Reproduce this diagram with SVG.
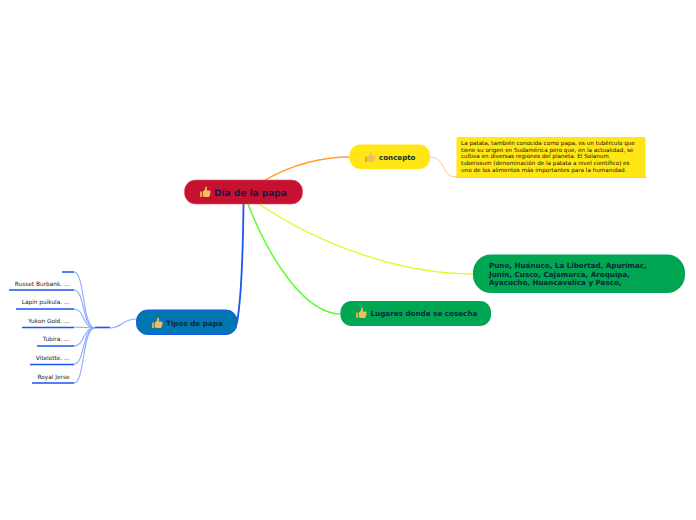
<svg xmlns="http://www.w3.org/2000/svg" width="696" height="520" viewBox="0 0 696 520">
<style>
text{font-family:"DejaVu Sans",Verdana,sans-serif;text-rendering:geometricPrecision}
.b{font-weight:bold;fill:#0b2a3a}
.leaf{font-size:5.8px;fill:#222;text-anchor:end}
.br{fill:none;stroke:#8aa9ff;stroke-width:1.100}
.ul{fill:none;stroke:#1a56f0;stroke-width:1.600}
.d{font-size:5.650px;fill:#111}
</style>
<defs>
<g id="thumb">
<path d="M-5 -0.5h2.4v5.5h-2.4z" fill="#e8a33c"/>
<path d="M-2 -0.5 L0 -2.5 L0.6 -5.5 C1.8 -5.8 2.4 -4.5 2 -3 L1.7 -1.5 H4.6 C5.6 -1.5 5.8 -0.3 5.2 0.2 C5.7 0.8 5.5 1.6 5 1.9 C5.3 2.6 5 3.2 4.5 3.5 C4.6 4.3 4.2 5 3.4 5 H0 L-2 4.3Z" fill="#f2bd62"/>
</g>
</defs>
<g id="connectors">
<path d="M265 180C290 166 320 157 350 157" fill="none" stroke="#ffa02b" stroke-width="1.400"/>
<path d="M430 157C446 157 441 177 456 177" fill="none" stroke="#ffc878" stroke-width="1"/>
<path d="M456 177H646" fill="none" stroke="#f5871f" stroke-width="1.200"/>
<path d="M259 204C320 245 400 274 473 274" fill="none" stroke="#d4ff2a" stroke-width="1.500"/>
<path d="M248 204C270 260 305 314 341 314" fill="none" stroke="#5cff2e" stroke-width="1.500"/>
<path d="M243.500 204C243 250 241 300 237 323" fill="none" stroke="#1a56f0" stroke-width="1.800"/>
<path d="M136 319C122 319 122 328 110 328" fill="none" stroke="#8aa9ff" stroke-width="1.100"/>
<path d="M95 327.500H110" class="ul"/>
<path class="br" d="M95 328C82 328 85 272 74 272"/>
<path class="br" d="M95 328C82 328 85 290 74 290"/>
<path class="br" d="M95 328C82 328 85 309 74 309"/>
<path class="br" d="M95 328C85 328 85 327 74 327"/>
<path class="br" d="M95 328C82 328 85 346 74 346"/>
<path class="br" d="M95 328C82 328 85 364 74 364"/>
<path class="br" d="M95 328C82 328 85 383 74 383"/>
<path class="ul" d="M62 272H74M9 290H74M16 309H74M22 327.500H74M37 346H74M30 364.500H74M32 383H74"/>
</g>
<g id="root">
<rect x="184.500" y="180" width="118" height="24" rx="11" fill="#c41230" stroke="#d8506a" stroke-width="0.600"/>
<use href="#thumb" x="205" y="192"/>
<text x="214" y="196" class="b" font-size="9" style="fill:#141a4a">Día de la papa</text>
</g>
<g id="concepto">
<rect x="349.500" y="144.500" width="80.500" height="24.500" rx="11" fill="#ffe614"/>
<use href="#thumb" x="370" y="157"/>
<text x="379" y="160" class="b" font-size="7.100">concepto</text>
</g>
<g id="definicion">
<rect x="456.500" y="137" width="189" height="40" rx="1.500" fill="#ffe614"/>
<text class="d"><tspan x="461" y="145">La patata, también conocida como papa, es un tubérculo que</tspan><tspan x="461" y="151.500">tiene su origen en Sudamérica pero que, en la actualidad, se</tspan><tspan x="461" y="158">cultiva en diversas regiones del planeta. El Solanum</tspan><tspan x="461" y="164.500">tuberosum (denominación de la patata a nivel científico) es</tspan><tspan x="461" y="171.500">uno de los alimentos más importantes para la humanidad.</tspan></text>
</g>
<g id="departamentos">
<rect x="473" y="254.500" width="212" height="38.500" rx="18" fill="#00a651"/>
<text class="b" font-size="7.150"><tspan x="489" y="268">Puno, Huánuco, La Libertad, Apurímac,</tspan><tspan x="489" y="276.500">Junín, Cusco, Cajamarca, Arequipa,</tspan><tspan x="489" y="285">Ayacucho, Huancavelica y Pasco,</tspan></text>
</g>
<g id="lugares">
<rect x="340.500" y="301" width="150.500" height="25" rx="11" fill="#00a651"/>
<use href="#thumb" x="361" y="313"/>
<text x="370.500" y="316" class="b" font-size="7.200">Lugares donde se cosecha</text>
</g>
<g id="tipos">
<rect x="136.500" y="310" width="100.500" height="24.500" rx="11" fill="#0077b0" stroke="#1a56f0" stroke-width="1"/>
<use href="#thumb" x="157" y="323"/>
<text x="166" y="326" class="b" font-size="7.200">Tipos de papa</text>
</g>
<g id="hojas">
<text class="leaf" x="69.500" y="286">Russet Burbank. ...</text>
<text class="leaf" x="69.500" y="304">Lapin puikula. ...</text>
<text class="leaf" x="69.500" y="323">Yukon Gold. ...</text>
<text class="leaf" x="69.500" y="341">Tubira. ...</text>
<text class="leaf" x="69.500" y="360">Vitelotte. ...</text>
<text class="leaf" x="69.500" y="379">Royal Jerse</text>
</g>
</svg>
